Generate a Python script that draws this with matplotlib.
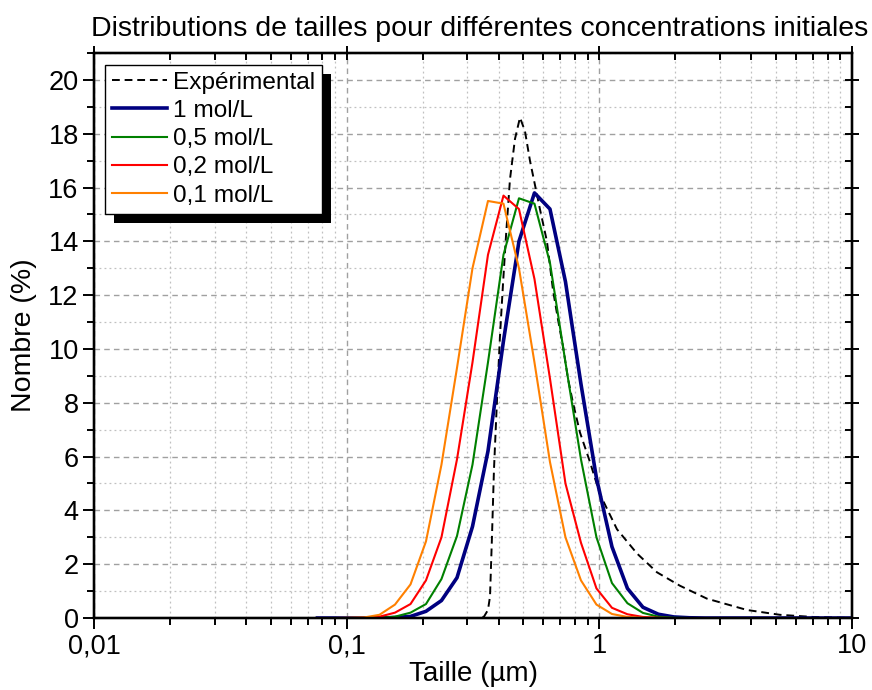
#!/usr/bin/env python3
"""Distributions de tailles - simulation vs experimental."""

import matplotlib
matplotlib.use('Agg')
import matplotlib.pyplot as plt
from matplotlib.patches import Rectangle
from matplotlib.ticker import LogLocator, MultipleLocator, FixedLocator

plt.rcParams['font.family'] = ['Liberation Sans', 'DejaVu Sans']

# Size classes (µm) for the simulated distributions
taille_sim = [0.0766, 0.0883, 0.1016, 0.1171, 0.1348, 0.1553, 0.1789, 0.2060,
              0.2372, 0.2733, 0.3147, 0.3624, 0.4174, 0.4807, 0.5536, 0.6376,
              0.7343, 0.8456, 0.9740, 1.1217, 1.2918, 1.4877, 1.7134, 1.9732,
              2.2725, 2.6182, 3.0150, 3.4720, 3.9994, 4.6056, 5.3050, 6.1094,
              7.0359, 8.1033, 9.3325, 10.0]

nb_1M = [0, 0, 0, 0, 0, 0.02, 0.06, 0.25, 0.65, 1.5, 3.4, 6.2, 10.3, 14.0,
         15.8, 15.2, 12.5, 8.7, 5.2, 2.65, 1.1, 0.4, 0.14, 0.04, 0.01, 0,
         0, 0, 0, 0, 0, 0, 0, 0, 0, 0]
nb_05M = [0, 0, 0, 0, 0.01, 0.05, 0.2, 0.52, 1.45, 3.05, 5.7, 9.5, 13.5, 15.6,
          15.4, 13.2, 9.5, 5.9, 3.0, 1.3, 0.55, 0.19, 0.05, 0.01, 0, 0,
          0, 0, 0, 0, 0, 0, 0, 0, 0, 0]
nb_02M = [0, 0, 0, 0.01, 0.05, 0.2, 0.52, 1.4, 3.0, 5.9, 9.5, 13.5, 15.7, 15.2,
          12.6, 8.9, 5.0, 2.8, 1.1, 0.38, 0.14, 0.04, 0.01, 0, 0, 0,
          0, 0, 0, 0, 0, 0, 0, 0, 0, 0]
nb_01M = [0, 0, 0.01, 0.02, 0.12, 0.5, 1.25, 2.85, 5.7, 9.3, 13.0, 15.5, 15.4, 13.0,
          9.5, 5.8, 3.0, 1.4, 0.5, 0.15, 0.04, 0.01, 0, 0, 0, 0,
          0, 0, 0, 0, 0, 0, 0, 0, 0, 0]

# Experimental distribution
taille_exp = [0.3075, 0.3279, 0.3494, 0.3624, 0.3692, 0.3758, 0.3827, 0.3934,
              0.4044, 0.4155, 0.4271, 0.4428, 0.4634, 0.4851, 0.5076, 0.5313,
              0.5560, 0.5818, 0.6202, 0.6552, 0.6858, 0.7178, 0.7512, 0.7863,
              0.8378, 0.9180, 1.0055, 1.1741, 1.4087, 1.6904, 2.0845, 2.6666,
              3.8373, 5.1846, 7.0023, 10.0]
nb_exp = [0, 0, 0.05, 0.3, 0.8, 3.0, 5.5, 8.1,
          10.5, 12.4, 14.2, 16.3, 17.8, 18.6, 18.1, 17.0,
          16.1, 15.2, 14.0, 12.2, 11.1, 10.1, 8.9, 8.0,
          6.9, 5.8, 4.6, 3.3, 2.4, 1.7, 1.2, 0.72,
          0.3, 0.12, 0.04, 0.0]

fig = plt.figure(figsize=(8.72, 6.90), dpi=100)
ax = fig.add_axes([0.1078, 0.1043, 0.8693, 0.8189])

ax.plot(taille_exp, nb_exp, color='black', linestyle=(0, (4, 2.5)), linewidth=1.4,
        label='Expérimental', zorder=3)
ax.plot(taille_sim, nb_1M, color='#000080', linewidth=2.6, label='1 mol/L', zorder=3)
ax.plot(taille_sim, nb_05M, color='#008000', linewidth=1.5, label='0,5 mol/L', zorder=3)
ax.plot(taille_sim, nb_02M, color='#ff0000', linewidth=1.5, label='0,2 mol/L', zorder=3)
ax.plot(taille_sim, nb_01M, color='#ff8000', linewidth=1.5, label='0,1 mol/L', zorder=3)

ax.set_xscale('log')
ax.set_xlim(0.01, 10)
ax.set_ylim(0, 21)

ax.xaxis.set_major_locator(FixedLocator([0.01, 0.1, 1, 10]))
ax.xaxis.set_minor_locator(LogLocator(base=10, subs=range(2, 10)))
ax.xaxis.set_minor_formatter(plt.NullFormatter())
ax.set_xticklabels(['0,01', '0,1', '1', '10'])
ax.yaxis.set_major_locator(MultipleLocator(2))
ax.yaxis.set_minor_locator(MultipleLocator(1))

ax.grid(True, which='major', color='#a0a0a0', linestyle=(0, (4, 3)), linewidth=1.0)
ax.grid(True, which='minor', color='#c0c0c0', linestyle=(0, (1.5, 2.5)), linewidth=0.9)
ax.set_axisbelow(True)

for s in ax.spines.values():
    s.set_linewidth(1.6)

ax.tick_params(which='both', labelsize=19.5, width=1.4, direction='out',
               top=False, right=False)
ax.tick_params(which='major', length=8, pad=3)
ax.tick_params(which='minor', length=5)

# ticks inward on top and right, like the original
axt = ax.twiny()
axt.set_xscale('log')
axt.set_xlim(ax.get_xlim())
axt.xaxis.set_major_locator(FixedLocator([0.01, 0.1, 1, 10]))
axt.xaxis.set_minor_locator(LogLocator(base=10, subs=range(2, 10)))
axt.tick_params(which='both', direction='in', labeltop=False, width=1.4)
axt.tick_params(which='major', direction='inout', length=10)
axt.tick_params(which='minor', length=5)
axr = ax.twinx()
axr.set_ylim(ax.get_ylim())
axr.yaxis.set_major_locator(MultipleLocator(2))
axr.yaxis.set_minor_locator(MultipleLocator(1))
axr.tick_params(which='both', direction='in', labelright=False, width=1.4)
axr.tick_params(which='major', direction='inout', length=10)
axr.tick_params(which='minor', length=5)
for a in (axt, axr):
    a.patch.set_visible(False)
    for s in a.spines.values():
        s.set_linewidth(1.6)

ax.set_xlabel('Taille (µm)', fontsize=20, labelpad=1)
ax.set_ylabel('Nombre (%)', fontsize=20.5, labelpad=8)
ax.set_title('Distributions de tailles pour différentes concentrations initiales',
             fontsize=20.5, pad=12, x=0.509)

handles, labels = ax.get_legend_handles_labels()
leg = axr.legend(handles, labels, loc='upper left', bbox_to_anchor=(0.0145, 0.979),
                 borderaxespad=0, fontsize=17.6, frameon=True, fancybox=False,
                 edgecolor='black', framealpha=1, handlelength=2.25,
                 handletextpad=0.25, labelspacing=0.25, borderpad=0.28)
leg.get_frame().set_linewidth(1.0)
leg.set_zorder(10)

# black drop shadow behind the legend
fig.canvas.draw()
bb = leg.get_window_extent().transformed(fig.transFigure.inverted())
dx, dy = 9 / 872, 9 / 690
axr.add_patch(Rectangle((bb.x0 + dx, bb.y0 - dy), bb.width, bb.height,
                        transform=fig.transFigure, facecolor='black',
                        edgecolor='none', zorder=9, clip_on=False))

plt.savefig('out.png', dpi=100)
